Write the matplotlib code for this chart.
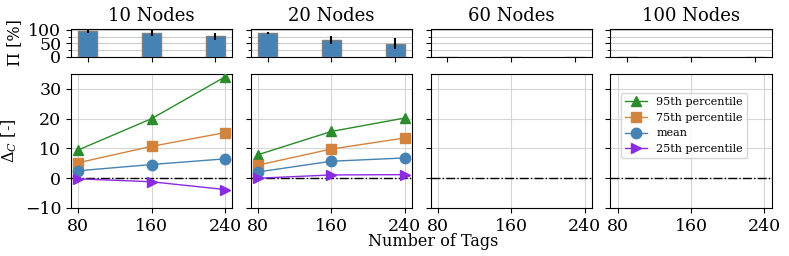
import numpy as np
import matplotlib.pyplot as plt

plt.rcParams['font.family'] = 'DejaVu Serif'
plt.rcParams['mathtext.fontset'] = 'dejavuserif'

tags = [80, 160, 240]
titles = ['10 Nodes', '20 Nodes', '60 Nodes', '100 Nodes']

# success rate [%] and its spread, per node count (no runs for 60/100)
pi_mean = [[97, 88, 76], [88, 63, 48], [0, 0, 0], [0, 0, 0]]
pi_err = [[8, 12, 12], [5, 15, 20], None, None]

p95 = [[9.5, 20.0, 34.0], [7.9, 15.7, 20.2], [], []]
p75 = [[5.2, 10.7, 15.3], [4.4, 9.8, 13.5], [], []]
mean = [[2.5, 4.6, 6.5], [2.1, 5.7, 6.8], [], []]
p25 = [[-0.2, -1.2, -3.8], [0.0, 1.1, 1.2], [], []]

series = [
    (p95, '95th percentile', '#2a8c2a', '^'),
    (p75, '75th percentile', '#d2843f', 's'),
    (mean, 'mean', '#4682b4', 'o'),
    (p25, '25th percentile', '#8a2be2', '>'),
]

fig, axes = plt.subplots(2, 4, figsize=(7.89, 2.56), dpi=100,
                         gridspec_kw={'height_ratios': [28, 134]})
fig.subplots_adjust(left=0.09, right=0.978, top=0.887, bottom=0.1875,
                    wspace=0.115, hspace=0.21)

for i in range(4):
    ax = axes[0, i]
    ax.bar(tags, pi_mean[i], width=24, color='#4682b4', edgecolor='gray',
           linewidth=1, yerr=pi_err[i], ecolor='black',
           error_kw={'elinewidth': 1.5}, zorder=3)
    ax.set_ylim(0, 103)
    ax.set_yticks([0, 50, 100])
    ax.set_yticks([25, 75], minor=True)
    ax.set_xticks(tags)
    ax.set_xticklabels([])
    ax.grid(True, axis='y', which='both', color='#cccccc', zorder=0)
    ax.set_title(titles[i], fontsize=13)
    ax.tick_params(labelsize=12.5)
    if i == 0:
        ax.set_ylabel('Π [%]', fontsize=11.5)
    else:
        ax.set_yticklabels([])

    ax = axes[1, i]
    for data, lab, col, mk in series:
        if data[i]:
            ax.plot(tags, data[i], color=col, marker=mk, markersize=7.5,
                    linewidth=1, label=lab, zorder=3)
        else:
            ax.plot([], [], color=col, marker=mk, markersize=7.5,
                    linewidth=1, label=lab)
    ax.axhline(0, color='black', linestyle='-.', linewidth=1, zorder=2)
    ax.set_xlim(72, 248)
    ax.set_ylim(-10, 35)
    ax.set_xticks(tags)
    ax.set_yticks([-10, 0, 10, 20, 30])
    ax.grid(True, color='#d5d5d5')
    ax.tick_params(labelsize=12.5)
    if i == 0:
        ax.set_ylabel(r'$\Delta_C$ [-]', fontsize=11.5)
    else:
        ax.set_yticklabels([])
    if i == 3:
        ax.legend(loc='upper left', fontsize=8, bbox_to_anchor=(0.03, 0.9),
                  handlelength=2)

fig.text(0.549, 0.04, 'Number of Tags', ha='center', fontsize=11.5)

fig.savefig('out.png', dpi=100)
